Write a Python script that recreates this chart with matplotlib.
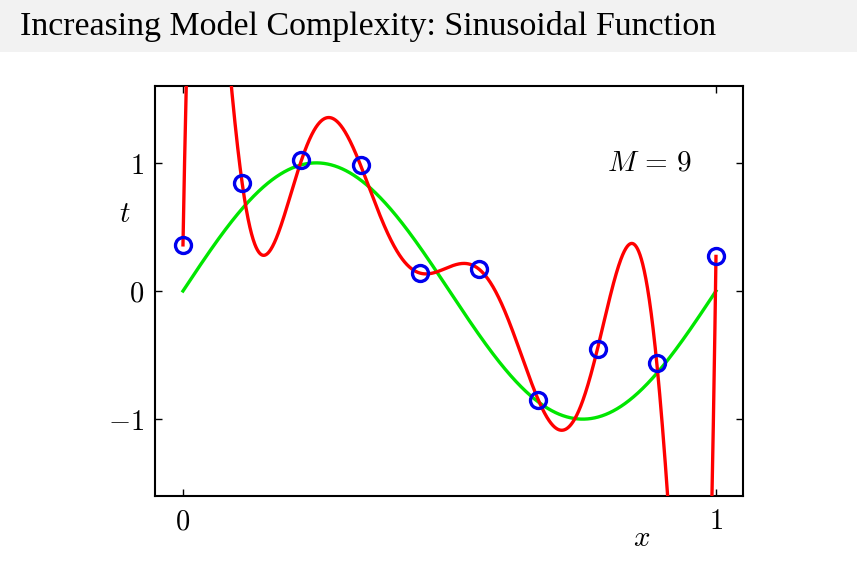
import numpy as np
import matplotlib
matplotlib.use("Agg")
import matplotlib.pyplot as plt
from matplotlib.patches import Rectangle

x_obs = [0.0, 1/9, 2/9, 3/9, 4/9, 5/9, 6/9, 7/9, 8/9, 1.0]
t_obs = [0.36, 0.84, 1.02, 0.98, 0.14, 0.17, -0.85, -0.45, -0.56, 0.27]
order_M = 9
title = "Increasing Model Complexity: Sinusoidal Function"

plt.rcParams['mathtext.fontset'] = 'cm'

fig = plt.figure(figsize=(8.57, 5.62), dpi=100)
fig.patch.set_facecolor('white')
fig.patches.append(Rectangle((0, 0.9075), 1, 0.0925, transform=fig.transFigure,
                             facecolor='#f2f2f2', edgecolor='none', zorder=0))
fig.text(20/857, 1 - 26/562, title, family='Liberation Serif', fontsize=24.4,
         ha='left', va='center')

ax = fig.add_axes([155/857, 66/562, 588/857, 410/562])

xx = np.linspace(0, 1, 2000)
# true function
ax.plot(xx, np.sin(2*np.pi*xx), color='#00e600', lw=2.4, zorder=2)
# M=9 polynomial fit
poly = np.polynomial.Polynomial.fit(x_obs, t_obs, order_M)
ax.plot(xx, poly(xx), color='#ff0000', lw=2.4, zorder=3)
ax.plot(x_obs, t_obs, 'o', ms=11.5, mfc='none', mec='#0000ee', mew=2.4, zorder=4)

ax.set_xlim(-0.0525, 1.0507)
ax.set_ylim(-1.6, 1.6)
ax.set_xticks([0, 1])
ax.set_yticks([-1, 0, 1])
ax.set_xticklabels([r'$0$', r'$1$'])
ax.set_yticklabels([r'$-1$', r'$0$', r'$1$'])
ax.tick_params(direction='in', top=True, right=True, length=5, width=1,
               labelsize=20.5, pad=8)
for s in ax.spines.values():
    s.set_linewidth(1.5)

ax.text(-0.11, 0.6, r'$t$', fontsize=21, ha='center', va='center')
ax.text(0.86, -1.93, r'$x$', fontsize=21, ha='center', va='center', clip_on=False)
ax.text(0.876, 1.0, r'$M\,=\,%d$' % order_M, fontsize=21, ha='center', va='center')

fig.savefig('out.png', dpi=100)
